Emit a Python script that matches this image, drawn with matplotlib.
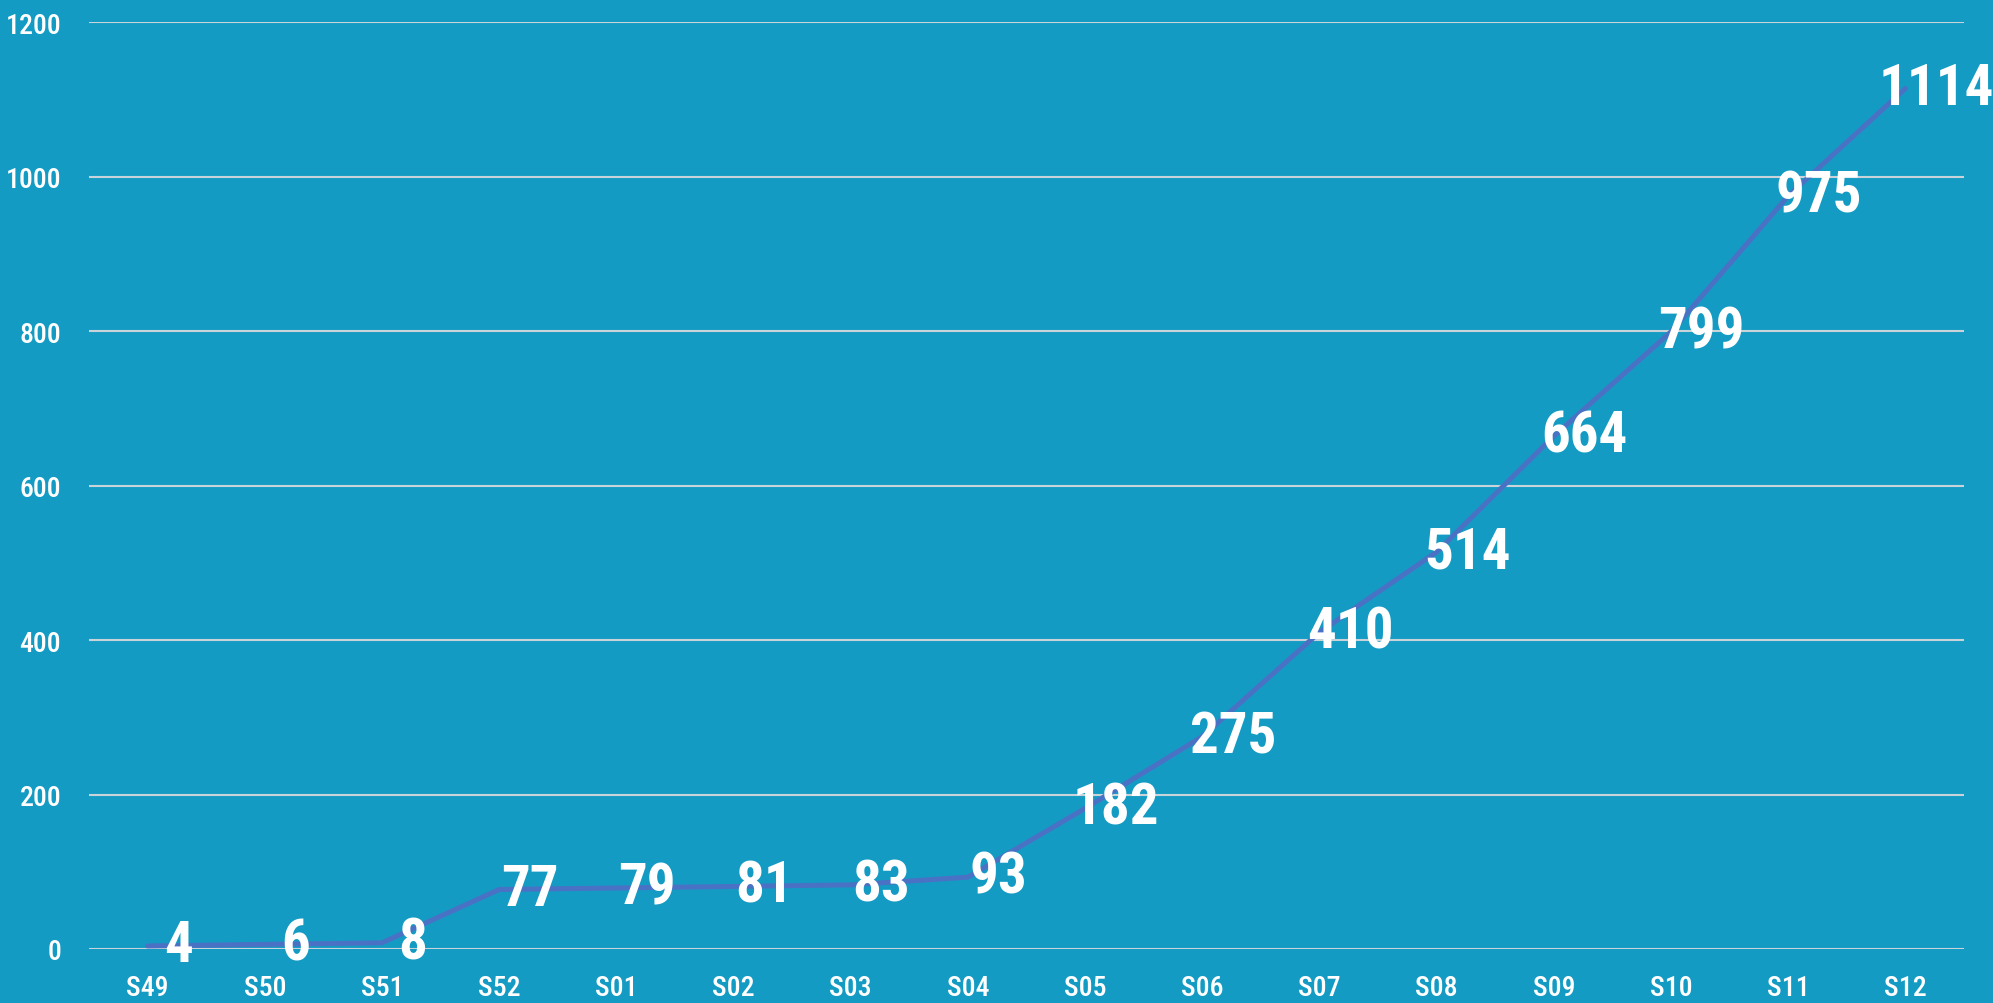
import os
import matplotlib
matplotlib.use("Agg")
import matplotlib.pyplot as plt
from matplotlib import font_manager
from matplotlib.font_manager import FontProperties

weeks = ["S49", "S50", "S51", "S52", "S01", "S02", "S03", "S04",
         "S05", "S06", "S07", "S08", "S09", "S10", "S11", "S12"]
values = [4, 6, 8, 77, 79, 81, 83, 93, 182, 275, 410, 514, 664, 799, 975, 1114]
yticks = [0, 200, 400, 600, 800, 1000, 1200]

files = {os.path.basename(f.fname): f.fname for f in font_manager.fontManager.ttflist}


def pick(prefs):
    for p in prefs:
        for b, full in files.items():
            if b.lower().startswith(p.lower()):
                return full
    return None


big_file = pick(["NotoSans-ExtraCondensedSemiBold", "NotoSans-ExtraCondensedBold",
                 "NotoSans-CondensedSemiBold", "RobotoCondensed-SemiBold",
                 "RobotoCondensed-Bold", "RobotoCondensed-Medium",
                 "LiberationSansNarrow-Bold", "DejaVuSansCondensed-Bold",
                 "OpenSans-CondensedBold", "OpenSans_Condensed-SemiBold"])
small_file = pick(["NotoSans-ExtraCondensedMedium", "NotoSans-ExtraCondensedSemiBold",
                   "NotoSans-CondensedMedium", "RobotoCondensed-Medium",
                   "RobotoCondensed-Regular", "LiberationSansNarrow-Regular",
                   "DejaVuSansCondensed", "OpenSans-CondensedLight"])
if big_file:
    big_fp = FontProperties(fname=big_file, size=41)
else:
    big_fp = FontProperties(family="DejaVu Sans", weight="bold", stretch="condensed", size=34)
if small_file:
    small_fp = FontProperties(fname=small_file, size=20)
else:
    small_fp = FontProperties(family="DejaVu Sans", weight="bold", stretch="condensed", size=15)

bg = "#149bc4"
W, H = 1993, 1004
fig = plt.figure(figsize=(W / 100, H / 100), dpi=100, facecolor=bg)
ax = fig.add_axes([89 / W, 1 - 950 / H, (1964 - 89) / W, (950 - 23) / H])
ax.set_facecolor(bg)

x = list(range(len(weeks)))
ax.plot(x, values, color="#4a72c4", lw=3.6, solid_capstyle="round", zorder=3)

for xi, v in zip(x, values):
    ax.annotate(str(v), (xi, v), xytext=(22, 0), textcoords="offset points",
                ha="center", va="center", color="white", fontproperties=big_fp,
                zorder=4)

ax.set_xlim(-0.5, len(weeks) - 0.5)
ax.set_ylim(0, 1200)
ax.set_yticks(yticks)
ax.set_yticklabels([str(t) for t in yticks], fontproperties=small_fp)
ax.set_xticks(x)
ax.set_xticklabels(weeks, fontproperties=small_fp)
ax.yaxis.grid(True, color="#c9d3da", lw=1.5, zorder=1)
ax.xaxis.grid(False)
ax.set_axisbelow(True)
for s in ax.spines.values():
    s.set_visible(False)
ax.tick_params(axis="both", length=0, colors="white")
ax.tick_params(axis="y", pad=20)
ax.tick_params(axis="x", pad=18)

fig.savefig("out.png", dpi=100, facecolor=bg)
